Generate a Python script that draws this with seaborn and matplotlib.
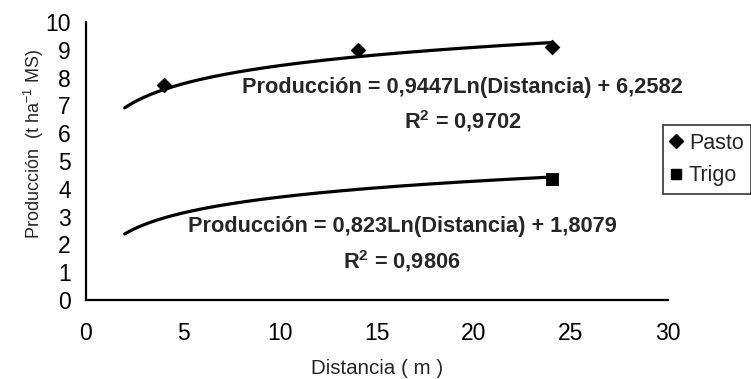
import numpy as np
import pandas as pd
import seaborn as sns
import matplotlib.pyplot as plt
from matplotlib.lines import Line2D

# measured points
pasto_dist = [4, 14, 24]
pasto_prod = [7.73, 9.0, 9.1]
trigo_dist = [24]
trigo_prod = [4.35]

# log trendlines printed on the chart: y = a*ln(x) + b
pasto_fit = (0.9447, 6.2582)
trigo_fit = (0.823, 1.8079)
fit_range = (2, 24)

eq_pasto = "Producción = 0,9447Ln(Distancia) + 6,2582\nR$^{\\mathbf{2}}$ = 0,9702"
eq_trigo = "Producción = 0,823Ln(Distancia) + 1,8079\nR$^{\\mathbf{2}}$ = 0,9806"

sns.set_style("white")
plt.rcParams["font.family"] = ["Liberation Sans", "DejaVu Sans"]
plt.rcParams["mathtext.fontset"] = "custom"
plt.rcParams["mathtext.rm"] = "Liberation Sans"
plt.rcParams["mathtext.bf"] = "Liberation Sans:bold"

fig = plt.figure(figsize=(7.51, 3.79), dpi=100)
ax = fig.add_axes([0.1145, 0.2084, 0.775, 0.7335])

xs = np.linspace(fit_range[0], fit_range[1], 200)
curves = pd.DataFrame({
    "Distancia": np.concatenate([xs, xs]),
    "Produccion": np.concatenate([pasto_fit[0] * np.log(xs) + pasto_fit[1],
                                  trigo_fit[0] * np.log(xs) + trigo_fit[1]]),
    "Cultivo": ["Pasto"] * len(xs) + ["Trigo"] * len(xs),
})
sns.lineplot(data=curves, x="Distancia", y="Produccion", units="Cultivo",
             estimator=None, color="black", linewidth=2.3, ax=ax, legend=False)

sns.scatterplot(x=pasto_dist, y=pasto_prod, marker="D", s=55, color="black",
                edgecolor="black", ax=ax, zorder=3)
sns.scatterplot(x=trigo_dist, y=trigo_prod, marker="s", s=65, color="black",
                edgecolor="black", ax=ax, zorder=3)

ax.set_xlim(0, 30)
ax.set_ylim(0, 10)
ax.set_xticks(range(0, 31, 5))
ax.set_yticks(range(0, 11))
sns.despine(ax=ax)
for s in ["left", "bottom"]:
    ax.spines[s].set_color("black")
    ax.spines[s].set_linewidth(1.6)
ax.tick_params(axis="both", direction="out", length=7, width=1.6,
               color="black", labelsize=16.5, labelcolor="black", pad=4)
ax.tick_params(axis="x", pad=9)

ax.set_xlabel("Distancia ( m )", fontsize=14.8, labelpad=10)
ax.set_ylabel("Producción  (t ha$^{-1}$ MS)", fontsize=13)
ax.yaxis.label.set_va("center")
ax.yaxis.set_label_coords(-0.09, 0.561)

ax.text(19.4, 7.0, eq_pasto, ha="center", va="center", fontsize=15.7,
        fontweight="bold", linespacing=1.5)
ax.text(16.3, 1.98, eq_trigo, ha="center", va="center", fontsize=15.7,
        fontweight="bold", linespacing=1.5)

handles = [
    Line2D([], [], marker="D", linestyle="none", color="black", markersize=7),
    Line2D([], [], marker="s", linestyle="none", color="black", markersize=7),
]
leg = fig.legend(handles, ["Pasto", "Trigo"], loc="upper left",
                 bbox_to_anchor=(663 / 751, 1 - 125 / 379), frameon=True,
                 fancybox=False, fontsize=15.5, handlelength=0.5,
                 handletextpad=0.35, labelspacing=0.55, borderpad=0.35,
                 borderaxespad=0)
leg.get_frame().set_edgecolor("black")
leg.get_frame().set_linewidth(1.2)

fig.savefig("out.png", dpi=100)
